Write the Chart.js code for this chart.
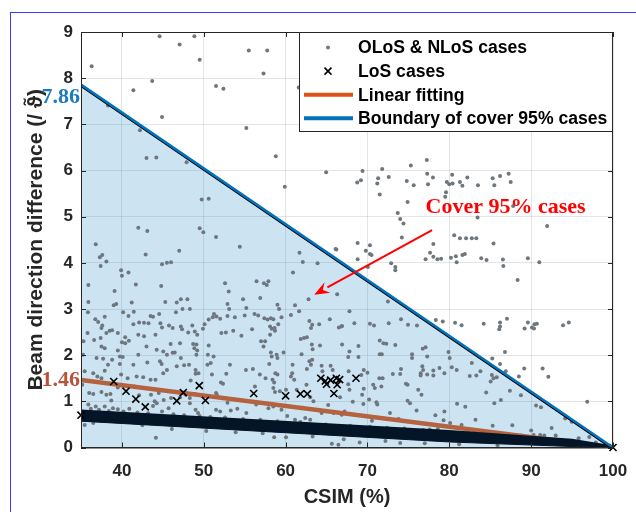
<!DOCTYPE html>
<html lang="en">
<head>
<meta charset="UTF-8">
<meta name="viewport" content="initial-scale=1.0">
<title>Beam direction difference vs CSIM</title>
<script src="https://cdn.jsdelivr.net/npm/chart.js"></script>
<style>
    html, body { margin: 0; padding: 0; background: #fff; overflow: hidden; }
    #frame {
        position: absolute; left: 10px; top: 12px;
        width: 700px; height: 600px;
        border-left: 1px solid #3c3cff; border-top: 1px solid #3c3cff;
    }
    #chart-container { position: absolute; left: 0; top: 0; width: 636px; height: 512px; }
</style>
</head>
<body>
<div id="frame"></div>
<div id="chart-container">
    <canvas id="csimChart"></canvas>
</div>

<script>
    // axis ticks
    const xTicks = [40, 50, 60, 70, 80, 90, 100];
    const yTicks = [0, 1, 2, 3, 4, 5, 6, 7, 8, 9];

    // boundary covering 95% of the cases, and the linear fit
    const lineX = [35, 100];
    const boundaryY = [7.86, 0];
    const fitY = [1.46, 0];

    // dense LoS band near the bottom (upper and lower edge)
    const bandUpper = [[35, 0.80], [80, 0.36], [95, 0.17], [100, 0.02]];
    const bandLower = [[35, 0.57], [80, 0.12], [95, 0.02], [100, 0]];

    // scattered LoS cases
    const losCases = [
        [35, 0.70], [39.0, 1.43], [40.5, 1.22], [41.7, 1.05], [42.85, 0.88], [46.7, 1.01],
        [47.5, 1.19], [49.45, 1.34], [50.2, 1.02], [56.1, 1.17], [60.0, 1.12], [61.8, 1.16],
        [62.65, 1.16], [64.3, 1.50], [64.85, 1.44], [65.0, 1.37], [65.5, 1.46], [65.9, 1.17],
        [66.2, 1.50], [66.6, 1.47], [66.3, 1.36], [68.6, 1.50], [100, 0]
    ];

    // OLoS & NLoS cases
    const olosNlosCases = [
        [36.3, 8.26], [44.6, 8.91], [48.85, 8.91], [47.05, 8.73], [49.5, 8.40], [43.7, 7.94],
        [41.4, 7.74], [44.9, 7.16], [38.3, 7.41], [42.2, 6.87], [43.0, 6.27], [44.2, 6.28],
        [47.9, 6.18], [49.75, 5.37], [50.6, 5.39], [42.0, 4.76], [43.1, 4.69], [49.5, 4.75],
        [49.95, 4.66], [55.5, 8.60], [57.75, 8.60], [57.3, 8.10], [51.5, 7.83], [52.4, 7.77],
        [61.6, 7.80], [55.2, 6.92], [58.8, 6.31], [64.95, 5.96], [59.9, 5.65], [51.5, 4.56],
        [77.25, 6.23], [75.3, 6.11], [71.8, 6.03], [69.4, 5.99], [68.75, 5.74], [69.2, 5.79],
        [71.3, 5.83], [71.2, 5.72], [72.6, 5.86], [74.8, 5.77], [75.65, 5.68], [77.3, 5.93],
        [78.0, 5.85], [77.4, 5.70], [79.7, 5.75], [80.35, 5.91], [80.4, 5.72], [80.0, 5.70],
        [81.3, 5.75], [81.6, 5.67], [82.2, 5.85], [71.5, 5.48], [74.9, 5.32], [79.6, 5.53],
        [79.5, 5.43], [73.7, 5.08], [74.0, 4.95], [74.4, 4.85], [74.2, 4.55], [80.6, 4.60],
        [81.3, 4.53], [82.05, 4.53], [82.75, 4.53], [83.3, 4.53], [83.45, 4.98], [83.5, 5.68],
        [85.3, 5.83], [86.2, 5.88], [87.25, 5.93], [85.5, 5.68], [87.5, 5.75], [87.8, 5.23],
        [91.95, 4.80], [68.8, 4.43], [69.8, 4.26], [70.3, 4.19], [70.5, 4.17], [66.2, 4.29],
        [85.4, 4.42], [77.65, 4.22], [78.05, 4.13], [78.55, 4.08], [79.0, 4.09], [80.2, 4.11],
        [80.8, 4.14], [81.6, 4.17], [81.9, 4.19], [68.8, 4.08], [83.9, 4.10], [84.55, 4.06],
        [86.55, 4.07], [89.6, 4.10], [70.3, 4.38], [70.05, 3.91], [72.9, 3.99], [73.4, 3.91],
        [73.4, 3.84], [78.05, 4.41], [77.1, 4.08], [80.9, 4.01], [86.6, 3.93], [91.0, 4.01],
        [88.35, 3.63],
        [84.2, 2.68], [86.2, 2.71], [87.05, 2.79], [86.2, 2.62], [86.1, 2.56], [89.6, 2.71],
        [89.2, 2.58], [90.1, 2.60], [90.4, 2.67], [90.7, 2.68], [90.35, 2.58], [93.9, 2.65],
        [94.6, 2.71], [86.8, 2.07], [85.25, 1.93], [86.2, 1.81], [85.2, 1.57], [85.4, 1.50],
        [85.8, 1.52], [85.05, 1.43], [83.8, 1.65], [86.9, 1.65], [89.15, 1.71], [91.4, 1.71],
        [92.1, 1.53], [88.5, 1.54], [87.4, 1.23], [88.75, 1.13], [84.5, 1.19], [86.3, 1.03],
        [85.5, 0.96], [90.6, 0.91], [91.2, 0.87], [96.85, 0.99], [94.15, 0.63], [94.95, 0.56],
        [85.3, 0.47], [90.0, 0.37], [90.3, 0.27], [91.1, 0.27], [91.6, 0.26], [93.0, 0.26],
        [95.8, 0.20], [97.1, 0.23],
        [72.5, 3.16], [67.8, 2.95], [74.1, 2.78], [68.4, 2.69], [70.3, 2.68], [70.8, 2.64],
        [72.6, 2.69], [74.95, 2.66], [76.05, 2.64], [78.35, 2.76], [79.2, 2.73], [80.7, 2.70],
        [81.5, 2.65], [71.5, 2.32], [71.95, 2.26], [72.3, 2.25], [73.4, 2.22], [68.9, 2.20],
        [67.8, 2.08], [67.65, 1.96], [68.9, 1.96], [71.5, 2.02], [71.75, 2.02], [76.75, 2.14],
        [77.1, 2.17], [77.3, 1.97], [75.45, 2.02], [75.45, 1.94], [79.9, 2.07], [80.05, 1.94],
        [82.75, 1.83], [74.1, 1.70], [74.0, 1.59], [73.1, 1.59], [76.7, 1.76], [76.8, 1.68],
        [76.5, 1.61], [76.5, 1.56], [77.3, 1.58], [78.05, 1.67], [78.05, 1.56], [78.8, 1.72],
        [79.4, 1.61], [80.3, 1.74], [80.9, 1.68], [82.5, 1.55], [83.3, 1.56],
        [67.7, 1.65], [69.55, 1.68], [70.0, 1.62], [69.25, 1.57], [71.45, 1.50], [71.85, 1.50],
        [70.7, 1.36], [70.9, 1.29], [71.7, 1.32], [69.55, 1.27], [69.35, 1.14], [69.5, 0.94],
        [70.2, 1.04], [71.1, 0.98], [71.2, 0.93], [68.2, 0.99], [67.65, 1.37], [67.8, 1.25],
        [74.7, 1.38], [74.9, 1.36], [76.2, 1.25], [75.2, 0.96], [74.9, 1.01], [76.6, 1.14],
        [79.4, 0.78], [80.95, 0.95], [81.95, 0.88], [76.0, 0.80], [72.75, 0.75], [71.6, 0.64],
        [70.55, 0.58], [69.5, 0.28], [69.05, 0.11], [74.0, 0.10], [77.6, 0.39], [80.1, 0.53],
        [81.5, 0.49], [79.3, 0.59],
        [54.4, 4.35], [61.7, 4.22], [62.1, 4.02], [60.9, 3.79], [63.9, 3.99], [66.1, 4.30],
        [66.3, 3.32], [52.6, 3.56], [53.05, 3.38], [56.45, 3.60], [57.35, 3.56], [57.7, 3.52],
        [57.9, 3.60], [56.9, 3.24], [54.8, 3.21], [62.8, 3.21], [52.9, 3.11], [53.1, 3.00],
        [55.2, 3.02], [59.0, 3.09], [59.2, 3.00], [61.15, 3.08], [61.65, 2.95], [60.65, 2.87],
        [51.55, 2.84], [52.0, 2.79], [51.25, 2.89], [52.9, 2.85], [53.8, 2.82], [55.0, 2.86],
        [56.2, 2.89], [56.65, 2.86], [57.4, 2.80], [57.8, 2.77], [58.2, 2.80], [58.5, 2.78],
        [59.5, 2.82], [62.9, 2.74], [63.25, 2.66], [63.1, 2.59], [64.1, 2.67], [65.4, 2.78],
        [66.8, 2.62], [66.5, 2.60], [66.9, 2.63], [52.15, 2.48], [52.7, 2.49], [53.6, 2.53],
        [54.6, 2.42], [55.9, 2.56], [58.1, 2.62], [58.3, 2.57], [58.65, 2.59], [58.7, 2.53],
        [59.1, 2.67], [58.1, 2.44], [61.85, 2.35], [62.25, 2.37], [62.6, 2.39], [63.2, 2.23],
        [63.3, 2.13], [64.2, 2.21], [66.9, 2.23], [57.0, 2.30], [57.5, 2.30], [57.3, 2.19],
        [58.2, 2.06], [58.3, 1.97], [58.0, 1.81], [58.9, 2.01], [59.0, 1.94], [59.75, 2.06],
        [60.85, 1.79], [61.95, 2.02], [62.9, 1.87], [63.25, 1.90], [63.1, 1.79], [62.6, 1.70],
        [64.4, 1.77], [64.5, 1.65], [65.5, 1.77], [65.75, 1.68],
        [53.2, 1.79], [52.75, 1.60], [52.1, 1.41], [52.35, 1.38], [55.15, 1.68], [56.0, 1.70],
        [56.85, 1.58], [57.55, 1.50], [58.75, 1.61], [58.4, 1.47], [58.6, 1.41], [59.0, 1.58],
        [60.8, 1.61], [60.65, 1.54], [61.05, 1.47], [51.5, 1.18], [51.6, 1.14], [56.25, 1.32],
        [58.5, 1.29], [58.7, 1.20], [59.3, 1.22], [60.05, 1.25], [61.35, 1.25], [62.55, 1.36],
        [63.0, 1.09], [63.4, 1.00], [66.65, 1.09], [67.2, 0.78], [51.5, 0.82], [52.0, 0.78],
        [53.3, 0.80], [54.1, 0.84], [55.2, 0.75], [57.9, 0.85], [58.5, 0.89], [59.5, 0.82],
        [60.2, 0.68], [61.15, 0.60], [62.4, 0.64], [63.0, 0.60], [64.4, 0.75], [65.85, 0.75],
        [66.85, 0.71], [58.6, 0.22], [60.05, 0.22], [61.85, 0.40], [65.65, 0.08], [66.45, 0.06],
        [36.8, 4.40], [37.6, 4.17], [37.3, 4.12], [38.1, 4.03], [37.4, 3.93], [42.9, 4.18],
        [47.0, 4.26], [44.9, 3.97], [45.5, 4.00], [46.0, 4.01], [39.9, 3.84], [40.0, 3.72],
        [40.8, 3.79], [35.9, 3.52], [41.7, 3.53], [44.8, 3.50], [39.1, 3.39], [35.9, 3.15],
        [39.0, 3.08], [39.3, 3.11], [41.2, 3.14], [45.3, 3.15], [46.7, 3.14], [47.2, 3.21],
        [48.0, 3.21], [47.4, 3.00], [48.3, 3.00], [46.6, 2.93], [35.85, 2.93], [36.75, 2.78],
        [37.1, 2.72], [37.9, 2.83], [37.6, 2.64], [40.15, 2.93], [40.8, 2.85], [41.45, 2.94],
        [41.4, 2.67], [42.1, 2.71], [42.7, 2.70], [43.25, 2.69], [43.5, 2.85], [43.8, 2.83],
        [44.55, 2.89], [44.7, 2.69], [44.9, 2.60], [45.75, 2.64], [46.2, 2.59], [47.2, 2.62],
        [47.35, 2.56], [48.1, 2.49], [48.6, 2.64], [48.9, 2.51], [49.2, 2.44], [49.9, 2.57],
        [50.1, 2.67], [50.6, 2.77], [51.1, 2.82], [35.8, 2.48], [37.5, 2.59], [38.1, 2.48],
        [38.5, 2.53], [38.8, 2.54], [37.4, 2.37], [36.6, 2.33], [39.5, 2.48], [40.4, 2.39],
        [40.0, 2.28], [42.0, 2.44], [42.7, 2.41], [44.1, 2.44], [40.85, 2.31], [40.4, 2.26],
        [43.0, 2.19], [45.05, 2.08], [45.95, 2.24], [47.1, 2.26], [46.2, 2.05], [48.7, 2.24],
        [48.85, 2.15], [49.1, 2.23], [49.2, 2.10], [49.1, 2.01], [50.6, 2.21], [50.5, 2.01],
        [51.2, 1.97], [35.3, 2.30], [35.25, 2.01], [37.5, 2.19], [37.9, 2.15], [37.7, 1.92],
        [36.9, 1.94], [38.3, 1.79], [38.8, 1.90], [39.5, 2.10], [39.75, 1.97], [40.1, 1.96],
        [39.75, 1.81], [41.4, 1.79], [42.0, 2.01], [43.1, 1.84], [44.25, 2.12], [44.65, 1.87],
        [44.85, 1.81], [45.5, 2.01], [46.45, 2.06], [45.5, 1.68], [46.7, 1.76], [47.2, 1.94],
        [47.6, 1.78], [48.2, 1.79], [49.0, 1.68], [49.35, 1.61], [50.45, 1.79], [50.85, 1.83],
        [35.45, 1.65], [36.5, 1.61], [37.0, 1.54], [37.5, 1.50], [37.9, 1.66], [39.9, 1.58],
        [40.7, 1.50], [41.8, 1.54], [42.6, 1.52], [43.5, 1.47], [44.1, 1.47], [45.05, 1.61],
        [48.4, 1.45], [49.0, 1.60], [51.0, 1.58], [35.15, 1.36], [36.0, 1.18], [36.5, 1.16],
        [37.5, 1.20], [38.1, 1.14], [38.6, 1.16], [39.5, 1.30], [41.5, 1.32], [42.1, 1.13],
        [43.55, 1.14], [44.5, 1.18], [44.0, 1.00], [45.1, 1.03], [46.0, 1.07], [47.1, 1.09],
        [47.8, 1.14], [48.3, 1.07], [48.9, 1.16], [35.9, 0.93], [36.8, 0.89], [37.9, 0.89],
        [38.9, 0.85], [39.5, 0.83], [40.9, 0.84], [44.25, 0.96], [44.9, 0.78], [45.7, 0.85],
        [48.3, 0.96], [49.0, 0.82], [49.3, 0.75], [49.5, 0.68], [35.45, 0.49], [36.5, 0.53],
        [40.9, 0.55], [44.15, 0.21],
        // cases hugging the LoS band
        [36.2, 0.84], [37.2, 0.82], [38.4, 0.79], [40.2, 0.78], [41.9, 0.76], [43.2, 0.74],
        [46.3, 0.72], [47.6, 0.70], [50.8, 0.66], [52.6, 0.65], [54.8, 0.62], [56.9, 0.60],
        [59.0, 0.57], [61.8, 0.55], [64.9, 0.50], [67.9, 0.47], [70.3, 0.45], [72.4, 0.43],
        [74.5, 0.41], [76.8, 0.38], [78.6, 0.40], [82.3, 0.33], [84.1, 0.32], [86.9, 0.29],
        [88.8, 0.26], [42.5, 0.48], [46.1, 0.40], [50.3, 0.36], [53.9, 0.33], [57.2, 0.31],
        [63.3, 0.24], [67.1, 0.18], [72.2, 0.14], [77.0, 0.09], [81.2, 0.07], [85.9, 0.05],
        [38.7, 1.02], [43.8, 0.90], [52.9, 0.97], [56.4, 0.93], [62.1, 0.86], [65.2, 0.92],
        [73.8, 0.62], [78.3, 0.70], [83.2, 0.60], [87.7, 0.48], [92.5, 0.42], [97.9, 0.11]
    ];

    // annotation anchors (data units)
    const arrowTail = [77.9, 4.71];
    const arrowTip = [63.5, 3.31];
    const coverLabelAt = [77.1, 5.2];

    const toPoints = pairs => pairs.map(([x, y]) => ({ x, y }));
    const toXY = (xs, ys) => xs.map((x, i) => ({ x, y: ys[i] }));

    const SANS = "'Liberation Sans', Arial, Helvetica, sans-serif";
    const SERIF = "'Liberation Serif', 'Times New Roman', serif";
    const AXIS_COLOR = '#262626';

    Chart.defaults.font.family = SANS;
    Chart.defaults.font.weight = 'bold';
    Chart.defaults.color = AXIS_COLOR;

    // draws a dataset shifted by a few pixels (black edge under the blue boundary)
    const shiftPlugin = {
        id: 'shift',
        beforeDatasetDraw(chart, args) {
            const ds = chart.data.datasets[args.index];
            if (ds.shiftY) { chart.ctx.save(); chart.ctx.translate(0, ds.shiftY); }
        },
        afterDatasetDraw(chart, args) {
            const ds = chart.data.datasets[args.index];
            if (ds.shiftY) chart.ctx.restore();
        }
    };

    // box, inward ticks, value labels, arrow and legend
    const decorPlugin = {
        id: 'decor',
        afterDraw(chart) {
            const { ctx, chartArea: a, scales: { x, y } } = chart;
            ctx.save();

            // axes box with inward ticks
            ctx.strokeStyle = AXIS_COLOR;
            ctx.lineWidth = 1;
            ctx.strokeRect(a.left + 0.5, a.top + 0.5, a.right - a.left - 1, a.bottom - a.top);
            ctx.beginPath();
            xTicks.forEach(v => {
                const px = Math.round(x.getPixelForValue(v)) + 0.5;
                ctx.moveTo(px, a.bottom); ctx.lineTo(px, a.bottom - 5);
                ctx.moveTo(px, a.top); ctx.lineTo(px, a.top + 5);
            });
            yTicks.forEach(v => {
                const py = Math.round(y.getPixelForValue(v)) + 0.5;
                ctx.moveTo(a.left, py); ctx.lineTo(a.left + 5, py);
                ctx.moveTo(a.right, py); ctx.lineTo(a.right - 5, py);
            });
            ctx.stroke();

            // values where the two lines meet the left axis
            ctx.font = 'bold 22px ' + SERIF;
            ctx.textAlign = 'right';
            ctx.textBaseline = 'middle';
            ctx.fillStyle = '#1a7ac4';
            ctx.fillText(boundaryY[0].toFixed(2), a.left - 1, y.getPixelForValue(boundaryY[0]) + 13);
            ctx.fillStyle = '#b5533c';
            ctx.fillText(fitY[0].toFixed(2), a.left - 1, y.getPixelForValue(fitY[0]));

            // "Cover 95% cases" with its arrow
            ctx.fillStyle = '#ff0000';
            ctx.textAlign = 'left';
            ctx.fillText('Cover 95% cases', x.getPixelForValue(coverLabelAt[0]), y.getPixelForValue(coverLabelAt[1]));
            const tx = x.getPixelForValue(arrowTail[0]), ty = y.getPixelForValue(arrowTail[1]);
            const hx = x.getPixelForValue(arrowTip[0]), hy = y.getPixelForValue(arrowTip[1]);
            const ang = Math.atan2(hy - ty, hx - tx);
            const headLen = 15, headHalf = 6;
            const bx = hx - headLen * Math.cos(ang), by = hy - headLen * Math.sin(ang);
            ctx.strokeStyle = '#ff0000';
            ctx.lineWidth = 2;
            ctx.beginPath(); ctx.moveTo(tx, ty); ctx.lineTo(bx, by); ctx.stroke();
            ctx.beginPath();
            ctx.moveTo(hx, hy);
            ctx.lineTo(bx + headHalf * Math.sin(ang), by - headHalf * Math.cos(ang));
            ctx.lineTo(bx + 0.35 * headLen * Math.cos(ang), by + 0.35 * headLen * Math.sin(ang));
            ctx.lineTo(bx - headHalf * Math.sin(ang), by + headHalf * Math.cos(ang));
            ctx.closePath();
            ctx.fill();

            // legend in the upper right corner
            const lw = 314, lh = 100;
            const lx = a.right - lw, ly = a.top;
            ctx.fillStyle = '#ffffff';
            ctx.fillRect(lx, ly, lw, lh);
            ctx.strokeStyle = AXIS_COLOR;
            ctx.lineWidth = 1;
            ctx.strokeRect(lx + 0.5, ly + 0.5, lw - 1, lh - 1);
            const rows = [
                { text: 'OLoS & NLoS cases', kind: 'dot' },
                { text: 'LoS cases', kind: 'cross' },
                { text: 'Linear fitting', kind: 'line', color: '#d95319' },
                { text: 'Boundary of cover 95% cases', kind: 'line', color: '#0072bd' }
            ];
            ctx.font = 'bold 17.6px ' + SANS;
            ctx.textAlign = 'left';
            ctx.textBaseline = 'middle';
            rows.forEach((r, i) => {
                const ry = ly + 15.5 + i * 23.6;
                const sx = lx + 29;
                if (r.kind === 'dot') {
                    ctx.fillStyle = '#727a82';
                    ctx.beginPath(); ctx.arc(sx, ry, 2, 0, Math.PI * 2); ctx.fill();
                } else if (r.kind === 'cross') {
                    ctx.strokeStyle = '#000';
                    ctx.lineWidth = 1.6;
                    ctx.beginPath();
                    ctx.moveTo(sx - 3.5, ry - 3.5); ctx.lineTo(sx + 3.5, ry + 3.5);
                    ctx.moveTo(sx + 3.5, ry - 3.5); ctx.lineTo(sx - 3.5, ry + 3.5);
                    ctx.stroke();
                } else {
                    ctx.strokeStyle = r.color;
                    ctx.lineWidth = 4;
                    ctx.beginPath(); ctx.moveTo(lx + 5, ry); ctx.lineTo(lx + 54, ry); ctx.stroke();
                }
                ctx.fillStyle = '#000';
                ctx.fillText(r.text, lx + 59, ry + 1);
            });
            ctx.restore();
        }
    };

    const ctx = document.getElementById('csimChart').getContext('2d');
    const chart = new Chart(ctx, {
        type: 'scatter',
        data: {
            datasets: [
                {   // shaded region under the boundary
                    label: 'cover area',
                    data: toXY(lineX, boundaryY),
                    showLine: true,
                    fill: 'origin',
                    backgroundColor: 'rgba(0, 114, 189, 0.2)',
                    borderWidth: 0,
                    pointRadius: 0,
                    order: 10
                },
                {
                    label: 'OLoS & NLoS cases',
                    data: toPoints(olosNlosCases),
                    pointRadius: 2,
                    pointBackgroundColor: '#6e767e',
                    pointBorderWidth: 0,
                    pointBorderColor: '#6e767e',
                    order: 9
                },
                {
                    label: 'Linear fitting',
                    data: toXY(lineX, fitY),
                    showLine: true,
                    borderColor: '#b5623f',
                    borderWidth: 4.5,
                    pointRadius: 0,
                    order: 8
                },
                {   // band lower edge
                    label: 'LoS band low',
                    data: toPoints(bandLower),
                    showLine: true,
                    borderColor: '#031526',
                    borderWidth: 1,
                    pointRadius: 0,
                    order: 7
                },
                {   // band upper edge, filled down to the lower edge
                    label: 'LoS band',
                    data: toPoints(bandUpper),
                    showLine: true,
                    fill: '-1',
                    backgroundColor: '#031526',
                    borderColor: '#031526',
                    borderWidth: 2,
                    pointRadius: 0,
                    order: 6
                },
                {
                    label: 'LoS cases',
                    data: toPoints(losCases),
                    pointStyle: 'crossRot',
                    pointRadius: 5,
                    pointBorderWidth: 1.6,
                    pointBorderColor: '#000',
                    clip: false,
                    order: 5
                },
                {   // dark edge under the boundary line
                    label: 'boundary edge',
                    data: toXY(lineX, boundaryY),
                    showLine: true,
                    borderColor: '#000',
                    borderWidth: 2,
                    pointRadius: 0,
                    shiftY: 1.5,
                    order: 4
                },
                {
                    label: 'Boundary of cover 95% cases',
                    data: toXY(lineX, boundaryY),
                    showLine: true,
                    borderColor: '#0072bd',
                    borderWidth: 2.5,
                    pointRadius: 0,
                    order: 3
                }
            ]
        },
        options: {
            responsive: true,
            maintainAspectRatio: false,
            animation: false,
            layout: { padding: { top: 32, right: 23, left: 0, bottom: 0 } },
            plugins: {
                legend: { display: false },
                tooltip: { enabled: false }
            },
            scales: {
                x: {
                    type: 'linear',
                    min: 35,
                    max: 100,
                    afterBuildTicks: s => { s.ticks = xTicks.map(v => ({ value: v })); },
                    afterFit: s => { s.height = 64.5; s.paddingLeft = 0; s.paddingRight = 0; },
                    grid: { color: 'rgba(0,0,0,0.1)', drawTicks: false },
                    border: { color: AXIS_COLOR },
                    ticks: { padding: 14, font: { size: 17, weight: 'bold' }, color: AXIS_COLOR, maxRotation: 0 },
                    title: {
                        display: true,
                        text: 'CSIM (%)',
                        font: { size: 20, weight: 'bold' },
                        color: AXIS_COLOR,
                        padding: { top: 0, bottom: 3 }
                    }
                },
                y: {
                    type: 'linear',
                    min: 0,
                    max: 9,
                    afterBuildTicks: s => { s.ticks = yTicks.map(v => ({ value: v })); },
                    afterFit: s => { s.width = 81; s.paddingTop = 0; s.paddingBottom = 0; },
                    grid: { color: 'rgba(0,0,0,0.1)', drawTicks: false },
                    border: { color: AXIS_COLOR },
                    ticks: { padding: 8, font: { size: 17, weight: 'bold' }, color: AXIS_COLOR },
                    title: {
                        display: true,
                        text: 'Beam direction difference (/ ϑ̃)',
                        font: { size: 21, weight: 'bold' },
                        color: AXIS_COLOR,
                        padding: { top: 24, bottom: 0 }
                    }
                }
            }
        },
        plugins: [shiftPlugin, decorPlugin]
    });
</script>
</body>
</html>
